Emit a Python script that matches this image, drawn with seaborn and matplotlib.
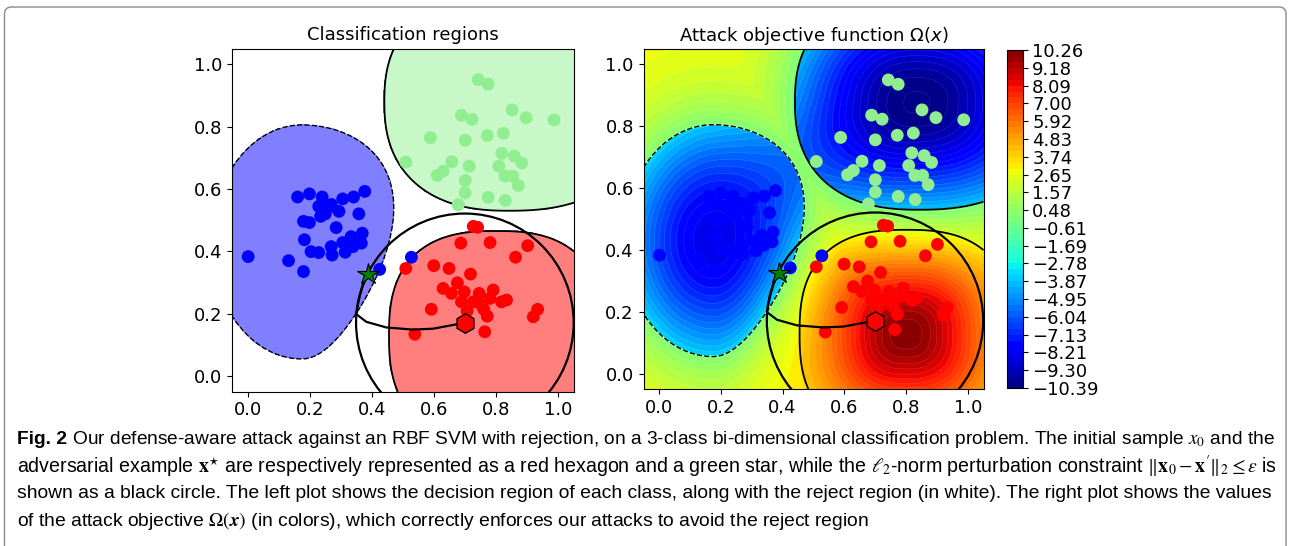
import matplotlib
matplotlib.use("Agg")
import matplotlib.pyplot as plt
from matplotlib import font_manager
from matplotlib.patches import Circle, FancyBboxPatch
import numpy as np
import pandas as pd
import seaborn as sns

# training samples of the three classes
blue_x = [0.002, 0.132, 0.180, 0.161, 0.199, 0.240, 0.229, 0.258, 0.235, 0.306,
          0.341, 0.377, 0.294, 0.358, 0.180, 0.199, 0.285, 0.183, 0.204, 0.229,
          0.269, 0.272, 0.314, 0.306, 0.333, 0.369, 0.366, 0.339, 0.425, 0.527,
          0.250, 0.270]
blue_y = [0.383, 0.370, 0.335, 0.574, 0.584, 0.574, 0.544, 0.539, 0.512, 0.568,
          0.574, 0.592, 0.528, 0.520, 0.496, 0.492, 0.476, 0.437, 0.399, 0.396,
          0.415, 0.388, 0.397, 0.428, 0.447, 0.458, 0.426, 0.415, 0.342, 0.381,
          0.520, 0.550]
green_x = [0.742, 0.774, 0.851, 0.896, 0.986, 0.688, 0.722, 0.588, 0.700, 0.771,
           0.823, 0.509, 0.657, 0.713, 0.818, 0.858, 0.882, 0.808, 0.629, 0.610,
           0.700, 0.828, 0.853, 0.871, 0.700, 0.774, 0.829, 0.678]
green_y = [0.950, 0.936, 0.853, 0.828, 0.821, 0.836, 0.823, 0.764, 0.756, 0.771,
           0.778, 0.686, 0.687, 0.673, 0.714, 0.705, 0.683, 0.673, 0.657, 0.643,
           0.627, 0.641, 0.641, 0.611, 0.587, 0.573, 0.563, 0.549]
red_x = [0.726, 0.740, 0.686, 0.780, 0.901, 0.862, 0.509, 0.599, 0.648, 0.717,
         0.675, 0.629, 0.656, 0.697, 0.745, 0.790, 0.688, 0.726, 0.753, 0.780,
         0.817, 0.833, 0.706, 0.760, 0.771, 0.591, 0.933, 0.919, 0.538, 0.763]
red_y = [0.480, 0.477, 0.426, 0.428, 0.418, 0.381, 0.345, 0.354, 0.345, 0.327,
         0.299, 0.281, 0.265, 0.270, 0.265, 0.276, 0.238, 0.238, 0.227, 0.249,
         0.238, 0.244, 0.209, 0.214, 0.192, 0.214, 0.214, 0.190, 0.134, 0.142]

# initial sample, adversarial example, l2 budget and optimisation path
x0 = [0.699, 0.171]
x_adv = [0.387, 0.326]
eps = 0.35
path_x = [0.699, 0.597, 0.532, 0.446, 0.382, 0.349, 0.355, 0.362, 0.371, 0.383, 0.387]
path_y = [0.171, 0.152, 0.149, 0.156, 0.174, 0.199, 0.231, 0.261, 0.290, 0.318, 0.326]

# decision regions: centre x, centre y, half-width left, half-width right,
# half-height, right-side skew, shape exponent
blue_region = [0.175, 0.43, 0.29, 0.28, 0.375, 0.35, 2.0]
green_region = [0.84, 0.88, 0.40, 0.44, 0.35, 0.0, 2.4]
red_region = [0.80, 0.13, 0.345, 0.345, 0.335, 0.0, 2.6]

# objective function: value far from classes, (amplitude, sharpness) per class
omega_base = 3.0
blue_omega = [-11.5, 1.06]
green_omega = [-13.4, 1.15]
red_omega = [7.2, 1.9]
omega_min, omega_max = -10.3868, 10.2624

W, H = 1291, 546
fig = plt.figure(figsize=(W / 100, H / 100), dpi=100)

grid = np.linspace(-0.05, 1.05, 400)
X, Y = np.meshgrid(grid, grid)


def shape_distance(cx, cy, rxl, rxr, ry, skew, p):
    t = (Y - cy) / ry
    rx = np.where(X < cx, rxl, rxr * (1 + skew * t))
    rx = np.clip(rx, 0.05, None)
    u = (X - cx) / rx
    return (np.abs(u) ** p + np.abs(t) ** p) ** (1 / p)


d_blue = shape_distance(*blue_region)
d_green = shape_distance(*green_region)
d_red = shape_distance(*red_region)

labels = np.zeros_like(X)
labels[d_red < 1] = 3
labels[d_green < 1] = 2
labels[d_blue < 1] = 1


def class_term(d, amp, sharp):
    s = np.exp(-0.5 * (sharp * d) ** 2)
    tau = np.exp(-0.5 * sharp ** 2)
    inside = np.where(d < 1, amp * s, 0.0)
    outside = np.where(d < 1, 0.0, 0.45 * amp * tau * (s / tau) ** 2)
    return inside, outside


in_b, out_b = class_term(d_blue, *blue_omega)
in_g, out_g = class_term(d_green, *green_omega)
in_r, out_r = class_term(d_red, *red_omega)
omega = omega_base + in_b + in_g + in_r + out_r + np.minimum(out_b, out_g)
omega = np.clip(omega, omega_min, omega_max)
levels = np.linspace(omega_min, omega_max, 58)

df = pd.DataFrame({
    "x": blue_x + green_x + red_x,
    "y": blue_y + green_y + red_y,
    "cls": ["blue"] * len(blue_x) + ["green"] * len(green_x) + ["red"] * len(red_x),
})
palette = {"blue": "blue", "green": "lightgreen", "red": "red"}

ax1 = fig.add_axes([232 / W, 1 - 391.7 / H, 342 / W, 343.2 / H])
ax2 = fig.add_axes([643.5 / W, 1 - 389 / H, 340 / W, 340 / H])
cax = fig.add_axes([1006.5 / W, 1 - 388 / H, 16 / W, 338 / H])

ax1.contourf(X, Y, labels, levels=[-0.5, 0.5, 1.5, 2.5, 3.5],
             colors=["white", "#7f7fff", "#c8f7c8", "#ff7f7f"])
cf = ax2.contourf(X, Y, omega, levels=levels, cmap="jet")
ax2.contour(X, Y, omega, levels=levels, colors="white", linewidths=0.3, alpha=0.25)

for ax in (ax1, ax2):
    ax.contour(X, Y, d_blue, [1], colors="k", linewidths=1.0, linestyles="--")
    ax.contour(X, Y, d_green, [1], colors="k", linewidths=1.3)
    ax.contour(X, Y, d_red, [1], colors="k", linewidths=1.3)
    sns.scatterplot(data=df, x="x", y="y", hue="cls", palette=palette, s=85,
                    linewidth=0, legend=False, ax=ax, zorder=3)
    ax.add_patch(Circle((x0[0], x0[1]), eps, fill=False, ec="k", lw=1.6, zorder=4))
    ax.plot(path_x, path_y, color="k", lw=1.6, zorder=4)
    ax.plot(x0[0], x0[1], marker="h", ms=14, mfc="red", mec="k", mew=1, zorder=5)
    ax.plot(x_adv[0], x_adv[1], marker="*", ms=16, mfc="green", mec="k", mew=0.8, zorder=5)
    ax.set_xlim(-0.05, 1.05)
    ax.set_ylim(-0.05, 1.05)
    ax.set_xlabel("")
    ax.set_ylabel("")
    ax.set_xticks([0, 0.2, 0.4, 0.6, 0.8, 1.0])
    ax.set_yticks([0, 0.2, 0.4, 0.6, 0.8, 1.0])
    ax.tick_params(labelsize=13)

ax1.set_title("Classification regions", fontsize=13)
ax2.set_title(r"Attack objective function $\Omega(x)$", fontsize=13)

cb = fig.colorbar(cf, cax=cax, ticks=levels[::3])
cb.ax.set_yticklabels([f"{v:.2f}".replace("-", "\u2212") for v in levels[::3]])
cb.ax.tick_params(labelsize=13)

# caption
names = {f.name for f in font_manager.fontManager.ttflist}
cap_family = next((f for f in ["Liberation Sans Narrow", "DejaVu Sans Condensed",
                               "Liberation Sans"] if f in names), "DejaVu Sans")

caption = [
    [("Fig. 2", "bold"),
     (" Our defense-aware attack against an RBF SVM with rejection, on a 3-class "
      "bi-dimensional classification problem. The initial sample $x_0$ and the", "normal")],
    [("adversarial example $\\mathbf{x}^{\\star}$ are respectively represented as a red "
      "hexagon and a green star, while the $\\ell_2$-norm perturbation constraint "
      "$\\|\\mathbf{x}_0 - \\mathbf{x}'\\|_2 \\leq \\varepsilon$ is", "normal")],
    [("shown as a black circle. The left plot shows the decision region of each class, "
      "along with the reject region (in white). The right plot shows the values", "normal")],
    [("of the attack objective $\\Omega(\\mathbfit{x})$ (in colors), which correctly "
      "enforces our attacks to avoid the reject region", "normal")],
]
line_y = [440, 467, 494, 521]

fig.canvas.draw()
renderer = fig.canvas.get_renderer()


def place_line(parts, y_px, size, target=None):
    texts = [fig.text(0, 1 - y_px / H, s, fontsize=size, fontweight=w,
                      family=cap_family, math_fontfamily="stix",
                      va="center", ha="left") for s, w in parts]

    def layout(sz):
        x = 17
        for t in texts:
            t.set_fontsize(sz)
            t.set_x(x / W)
            x += t.get_window_extent(renderer).width
        return x - 17

    if target is not None:
        for _ in range(3):
            size *= target / layout(size)
    layout(size)
    return size


size = 13.0
for i, (parts, y) in enumerate(zip(caption, line_y)):
    if i < 3:
        size = place_line(parts, y, size, target=1258)
    else:
        place_line(parts, y, size)

fig.add_artist(FancyBboxPatch((0.045, -0.5), 12.815, 5.89,
                              boxstyle="round,pad=0,rounding_size=0.07",
                              transform=fig.dpi_scale_trans, fill=False,
                              ec="#8a8a8a", lw=1))

fig.savefig("out.png", dpi=100)
